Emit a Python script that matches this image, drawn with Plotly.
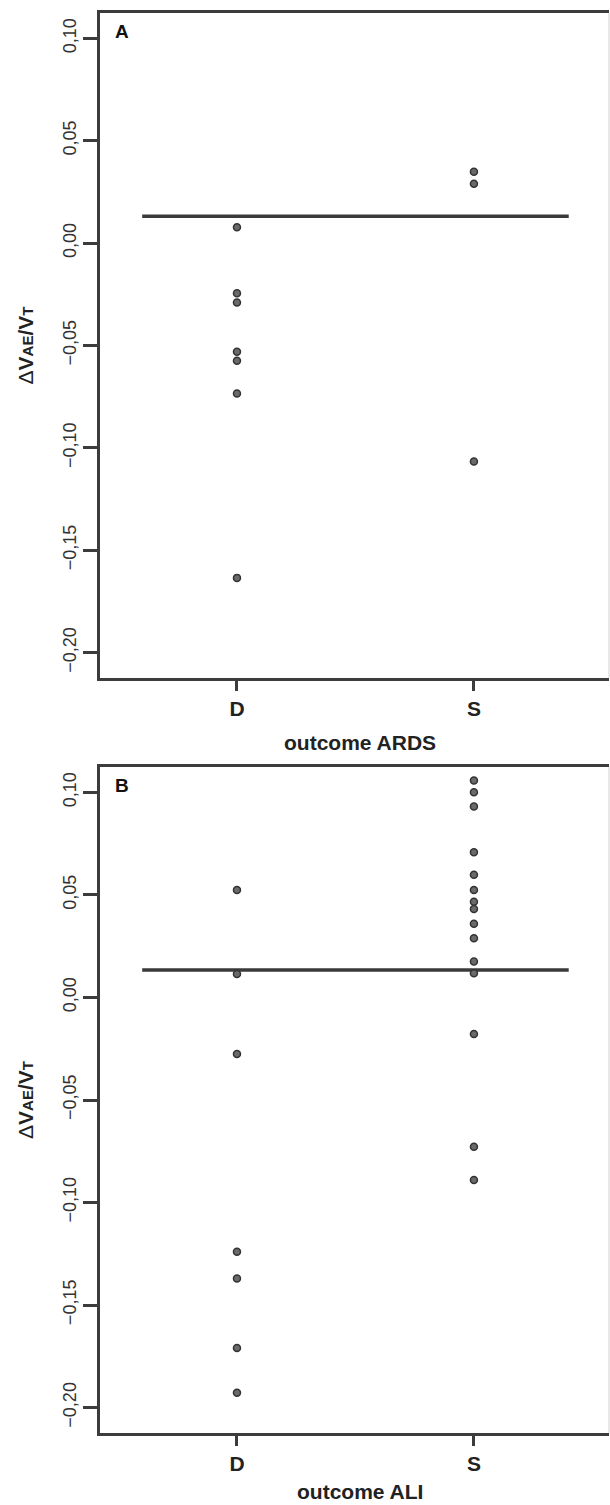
import plotly.graph_objects as go

# ---- data ----
categories = ["D", "S"]
cat_pos = [0, 1]

ards_D = [0.0077, -0.0245, -0.0290, -0.0530, -0.0575, -0.0735, -0.1635]
ards_S = [0.0349, 0.0290, -0.1067]
ards_ref = 0.0131

ali_D = [0.0524, 0.0115, -0.0276, -0.1240, -0.1370, -0.1710, -0.1928]
ali_S = [0.1058, 0.1001, 0.0931, 0.0708, 0.0598, 0.0524, 0.0467, 0.0432,
         0.0359, 0.0289, 0.0175, 0.0118, -0.0178, -0.0728, -0.0890]
ali_ref = 0.0134

y_ticks = [0.10, 0.05, 0.00, -0.05, -0.10, -0.15, -0.20]

panels = [
    dict(D=ards_D, S=ards_S, ref=ards_ref, label="A", xtitle="outcome ARDS"),
    dict(D=ali_D, S=ali_S, ref=ali_ref, label="B", xtitle="outcome ALI"),
]

W, H = 610, 1505
FONT = "Liberation Sans, Arial, sans-serif"
AX = "#3c3c3c"

# pixel geometry of the plot areas
left_px, right_px = 100, 609
tops_px = [13, 767]
bots_px = [678, 1433]
xtitle_offset = [64, 58]

fig = go.Figure()
layout = dict(
    width=W, height=H,
    margin=dict(l=0, r=0, t=0, b=0, autoexpand=False),
    paper_bgcolor="white", plot_bgcolor="white",
    separators=",.",
    showlegend=False,
    font=dict(family=FONT, color="#333"),
)
annotations = []
shapes = []

for i, p in enumerate(panels):
    xa = "x" if i == 0 else f"x{i+1}"
    ya = "y" if i == 0 else f"y{i+1}"
    xkey = "xaxis" if i == 0 else f"xaxis{i+1}"
    ykey = "yaxis" if i == 0 else f"yaxis{i+1}"

    # reference line
    fig.add_trace(go.Scatter(
        x=[-0.4, 1.4], y=[p["ref"], p["ref"]], mode="lines",
        line=dict(color="#3a3a3a", width=3.5), xaxis=xa, yaxis=ya,
        hoverinfo="skip"))
    # points
    for c, pos in zip(categories, cat_pos):
        vals = p[c]
        fig.add_trace(go.Scatter(
            x=[pos] * len(vals), y=vals, mode="markers",
            marker=dict(symbol="circle", size=7, color="#6a6a6a",
                        line=dict(color="#333333", width=1.5)),
            xaxis=xa, yaxis=ya))

    ydom = [1 - bots_px[i] / H, 1 - tops_px[i] / H]
    layout[xkey] = dict(
        domain=[left_px / W, right_px / W], anchor=ya, automargin=False,
        range=[-0.578, 1.570], tickvals=cat_pos,
        ticktext=[f"<b>{c}</b>" for c in categories],
        tickfont=dict(size=21, color="#222", family=FONT),
        ticks="outside", ticklen=10, tickwidth=2.5, tickcolor=AX,
        showline=True, linecolor=AX, linewidth=3, mirror=True,
        showgrid=False, zeroline=False, fixedrange=True,
    )
    layout[ykey] = dict(
        domain=ydom, anchor=xa, automargin=False,
        range=[-0.2124, 0.1124], tickvals=y_ticks, tickformat=".2f",
        tickangle=-90, tickfont=dict(size=18, color="#333", family=FONT),
        ticks="outside", ticklen=14, tickwidth=2.5, tickcolor=AX,
        showline=True, linecolor=AX, linewidth=3,
        showgrid=False, zeroline=False, fixedrange=True,
    )
    # faint right border
    shapes.append(dict(type="line", xref=f"{xa} domain", yref=f"{ya} domain",
                       x0=1, x1=1, y0=0, y1=1,
                       line=dict(color="#d0d0d0", width=1)))
    # panel letter
    annotations.append(dict(
        text=f"<b>{p['label']}</b>", x=122 / W, y=1 - (tops_px[i] + 19) / H,
        xref="paper", yref="paper", showarrow=False,
        xanchor="center", yanchor="middle",
        font=dict(size=19, color="#111", family=FONT)))
    # x title
    annotations.append(dict(
        text=f"<b>{p['xtitle']}</b>", x=360 / W,
        y=1 - (bots_px[i] + xtitle_offset[i]) / H, xref="paper", yref="paper",
        xanchor="center", yanchor="middle",
        showarrow=False, font=dict(size=21, color="#222", family=FONT)))
    # y title
    annotations.append(dict(
        text="Δ<b>V<span style='font-size:15px'>AE</span>/V<span style='font-size:15px'>T</span></b>",
        x=25 / W, y=1 - ((tops_px[i] + bots_px[i]) / 2) / H,
        xref="paper", yref="paper", textangle=-90, showarrow=False,
        xanchor="center", yanchor="middle",
        font=dict(size=21, color="#222", family=FONT)))

layout["annotations"] = annotations
layout["shapes"] = shapes
fig.update_layout(**layout)
fig.write_html("out.html", config={"displayModeBar": False},
               post_script="document.body.style.margin='0px';")
